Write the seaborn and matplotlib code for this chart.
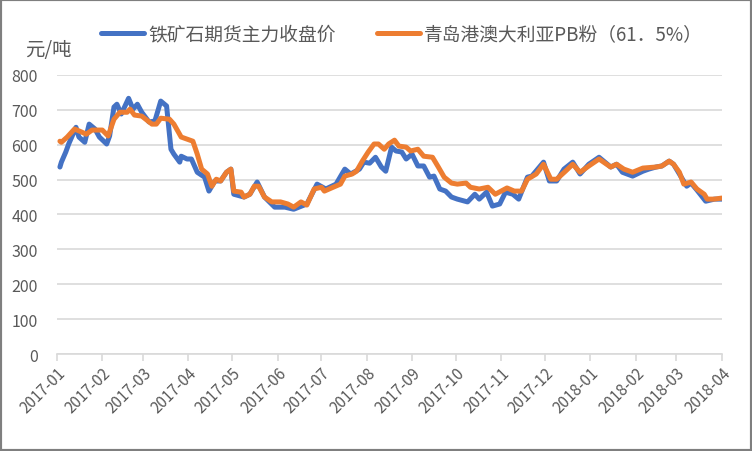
import pandas as pd
import matplotlib.pyplot as plt
import matplotlib.dates as mdates
from matplotlib.patches import Rectangle
import seaborn as sns

# 铁矿石期货主力收盘价
blue_dates = ["2017-01-03", "2017-01-04", "2017-01-07", "2017-01-09", "2017-01-14", "2017-01-16",
              "2017-01-20", "2017-01-23", "2017-01-27", "2017-01-30", "2017-02-04", "2017-02-06",
              "2017-02-09", "2017-02-11", "2017-02-14", "2017-02-19", "2017-02-22", "2017-02-25",
              "2017-02-28", "2017-03-05", "2017-03-09", "2017-03-13", "2017-03-17", "2017-03-20",
              "2017-03-22", "2017-03-26", "2017-03-27", "2017-03-31", "2017-04-03", "2017-04-07",
              "2017-04-12", "2017-04-15", "2017-04-19", "2017-04-23", "2017-04-27", "2017-04-30",
              "2017-05-02", "2017-05-09", "2017-05-13", "2017-05-18", "2017-05-23", "2017-05-30",
              "2017-06-06", "2017-06-12", "2017-06-21", "2017-06-28", "2017-07-04", "2017-07-11",
              "2017-07-17", "2017-07-21", "2017-07-27", "2017-07-30", "2017-08-03", "2017-08-07",
              "2017-08-11", "2017-08-14", "2017-08-18", "2017-08-21", "2017-08-25", "2017-08-28",
              "2017-09-01", "2017-09-05", "2017-09-09", "2017-09-13", "2017-09-16", "2017-09-20",
              "2017-09-24", "2017-09-28", "2017-10-02", "2017-10-09", "2017-10-14", "2017-10-17",
              "2017-10-22", "2017-10-26", "2017-10-31", "2017-11-04", "2017-11-09", "2017-11-13",
              "2017-11-19", "2017-11-22", "2017-11-30", "2017-12-04", "2017-12-09", "2017-12-14",
              "2017-12-20", "2017-12-25", "2017-12-31", "2018-01-07", "2018-01-15", "2018-01-19",
              "2018-01-23", "2018-01-30", "2018-02-06", "2018-02-10", "2018-02-15", "2018-02-19",
              "2018-02-24", "2018-02-27", "2018-03-03", "2018-03-08", "2018-03-11", "2018-03-15",
              "2018-03-21", "2018-03-27", "2018-04-01"]
blue_values = [536, 550, 579, 602, 650, 622,
               607, 659, 645, 622, 602, 625,
               708, 716, 688, 733, 702, 716,
               693, 665, 668, 725, 711, 587,
               573, 550, 567, 559, 559, 521,
               507, 467, 496, 496, 521, 530,
               458, 450, 458, 493, 450, 421,
               421, 415, 430, 487, 473, 487,
               530, 516, 530, 550, 547, 564,
               536, 524, 593, 582, 579, 559,
               573, 539, 539, 507, 510, 473,
               467, 450, 444, 436, 458, 444,
               464, 424, 430, 464, 458, 444,
               507, 510, 550, 496, 496, 530,
               550, 516, 544, 564, 536, 544,
               521, 510, 524, 530, 536, 539,
               553, 544, 516, 481, 490, 470,
               438, 444, 444]

# 青岛港澳大利亚PB粉（61．5%）
orange_dates = ["2017-01-03", "2017-01-04", "2017-01-08", "2017-01-13", "2017-01-18", "2017-01-21",
                "2017-01-25", "2017-02-01", "2017-02-05", "2017-02-09", "2017-02-13", "2017-02-18",
                "2017-02-20", "2017-02-23", "2017-02-28", "2017-03-07", "2017-03-10", "2017-03-13",
                "2017-03-19", "2017-03-22", "2017-03-27", "2017-03-31", "2017-04-04", "2017-04-07",
                "2017-04-10", "2017-04-14", "2017-04-17", "2017-04-20", "2017-04-23", "2017-04-27",
                "2017-04-30", "2017-05-02", "2017-05-07", "2017-05-09", "2017-05-13", "2017-05-16",
                "2017-05-19", "2017-05-23", "2017-05-28", "2017-06-03", "2017-06-08", "2017-06-12",
                "2017-06-17", "2017-06-21", "2017-06-26", "2017-07-01", "2017-07-03", "2017-07-09",
                "2017-07-14", "2017-07-17", "2017-07-22", "2017-07-25", "2017-07-29", "2017-08-02",
                "2017-08-06", "2017-08-09", "2017-08-13", "2017-08-16", "2017-08-20", "2017-08-23",
                "2017-08-28", "2017-08-31", "2017-09-05", "2017-09-09", "2017-09-15", "2017-09-19",
                "2017-09-23", "2017-09-28", "2017-10-02", "2017-10-08", "2017-10-11", "2017-10-17",
                "2017-10-23", "2017-10-28", "2017-11-05", "2017-11-10", "2017-11-15", "2017-11-19",
                "2017-11-25", "2017-11-30", "2017-12-05", "2017-12-09", "2017-12-15", "2017-12-20",
                "2017-12-25", "2017-12-31", "2018-01-07", "2018-01-15", "2018-01-19", "2018-01-24",
                "2018-01-30", "2018-02-06", "2018-02-15", "2018-02-19", "2018-02-24", "2018-02-27",
                "2018-03-03", "2018-03-06", "2018-03-11", "2018-03-15", "2018-03-20", "2018-03-22",
                "2018-03-27", "2018-04-01"]
orange_values = [610, 607, 622, 645, 636, 630,
                 642, 642, 625, 673, 693, 693,
                 702, 685, 682, 659, 659, 676,
                 673, 659, 622, 616, 610, 573,
                 530, 516, 481, 501, 496, 521,
                 530, 467, 464, 450, 458, 481,
                 481, 450, 436, 436, 430, 421,
                 436, 427, 473, 478, 467, 478,
                 487, 510, 516, 524, 553, 579,
                 602, 602, 587, 602, 613, 596,
                 593, 582, 587, 567, 564, 536,
                 507, 490, 487, 490, 478, 473,
                 478, 458, 476, 467, 467, 501,
                 516, 544, 501, 501, 524, 544,
                 521, 539, 559, 536, 544, 530,
                 521, 533, 536, 539, 553, 544,
                 521, 487, 493, 473, 458, 444,
                 444, 447]

name_blue = "铁矿石期货主力收盘价"
name_orange = "青岛港澳大利亚PB粉（61．5%）"

df = pd.concat([
    pd.DataFrame({"date": pd.to_datetime(blue_dates), "price": blue_values, "series": name_blue}),
    pd.DataFrame({"date": pd.to_datetime(orange_dates), "price": orange_values, "series": name_orange}),
])

sns.set_theme(style="white")
plt.rcParams["font.family"] = ["Noto Sans CJK SC", "DejaVu Sans"]

fig = plt.figure(figsize=(7.52, 4.52), dpi=100)
ax = fig.add_axes([0.0758, 0.2146, 0.884, 0.6174])

sns.lineplot(data=df, x="date", y="price", hue="series",
             palette={name_blue: "#4472C4", name_orange: "#ED7D31"},
             linewidth=3.6, ax=ax, legend=False,
             solid_joinstyle="round", solid_capstyle="round")

ax.set_xlim(pd.Timestamp("2017-01-01"), pd.Timestamp("2018-04-01"))
ax.set_ylim(0, 800)
ax.set_yticks(range(0, 801, 100))
ax.yaxis.grid(True, color="#D9D9D9", linewidth=1.2)
ax.set_axisbelow(True)
ax.xaxis.set_major_locator(mdates.MonthLocator())
ax.xaxis.set_major_formatter(mdates.DateFormatter("%Y-%m"))
ax.set_xlabel("")
ax.set_ylabel("")

for s in ["left", "right", "top"]:
    ax.spines[s].set_visible(False)
ax.spines["bottom"].set_color("#D9D9D9")
ax.spines["bottom"].set_linewidth(1.2)

ax.tick_params(axis="x", which="major", length=5, width=1.2, color="#D9D9D9",
               labelsize=11, labelcolor="#595959", pad=2, bottom=True)
ax.tick_params(axis="y", length=0, labelsize=11.5, labelcolor="#595959", pad=14)
plt.setp(ax.get_xticklabels(), rotation=45, ha="right", rotation_mode="anchor")

fig.text(0.033, 0.888, "元/吨", fontsize=14, color="#595959", va="center")

handles = [plt.Line2D([], [], color="#4472C4", linewidth=3.6, solid_capstyle="round"),
           plt.Line2D([], [], color="#ED7D31", linewidth=3.6, solid_capstyle="round")]
fig.legend(handles, [name_blue, name_orange], loc="center left", bbox_to_anchor=(0.112, 0.922),
           ncol=2, frameon=False, fontsize=13.5, labelcolor="#595959",
           handlelength=2.3, handletextpad=0.2, columnspacing=2.2)

fig.patches.append(Rectangle((0, 0), 1, 1, transform=fig.transFigure, fill=False,
                             edgecolor="#7F7F7F", linewidth=3))

fig.savefig("out.png", dpi=100)
